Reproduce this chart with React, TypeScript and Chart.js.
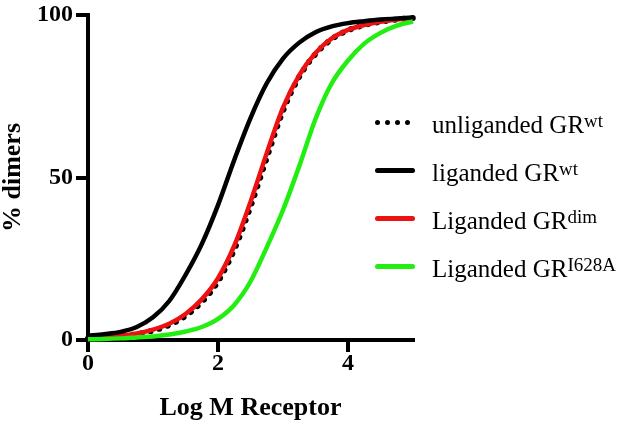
import React, { useEffect, useRef } from "react";
import { Chart, registerables } from "chart.js";

Chart.register(...registerables);

const X_VALUES = [0, 0.25, 0.5, 0.75, 1, 1.25, 1.5, 1.75, 2, 2.25, 2.5, 2.75, 3, 3.25, 3.5, 3.75, 4, 4.25, 4.5, 4.75, 5];
const UNLIGANDED_WT = [0.5, 0.8, 1.2, 1.8, 2.9, 4.6, 7.4, 11.7, 18, 27.8, 41, 56, 70.5, 81, 88, 92.6, 95.3, 96.9, 97.9, 98.6, 99.1];
const LIGANDED_WT = [1.3, 1.8, 2.5, 4.0, 7.0, 12.0, 20.0, 29.5, 41.5, 55.4, 68.3, 79, 86.6, 91.5, 94.7, 96.5, 97.5, 98.1, 98.6, 98.9, 99.2];
const LIGANDED_DIM = [0.6, 0.9, 1.3, 2.0, 3.2, 5.0, 8.0, 12.5, 19.0, 29.0, 42.5, 57.5, 71.5, 81.5, 88.3, 92.8, 95.4, 96.9, 97.9, 98.6, 99.1];
const LIGANDED_I628A = [0.2, 0.3, 0.5, 0.8, 1.1, 1.7, 2.6, 4.0, 6.5, 10.8, 18, 28.5, 40, 53.5, 68, 79, 86, 91.2, 94.5, 96.7, 98];
const X_TICKS = [0, 2, 4];
const Y_TICKS = [0, 50, 100];
const X_TITLE = "Log M Receptor";
const Y_TITLE = "% dimers";

const SERIF = '"Liberation Serif", "Times New Roman", serif';

const toPoints = (ys: number[]) => ys.map((y, i) => ({ x: X_VALUES[i], y }));

const legendRows = [
  { base: "unliganded GR", sup: "wt", kind: "dots", color: "#000000" },
  { base: "liganded GR", sup: "wt", kind: "line", color: "#000000" },
  { base: "Liganded GR", sup: "dim", kind: "line", color: "#ee1111" },
  { base: "Liganded GR", sup: "I628A", kind: "line", color: "#22ee11" },
];

export default function App() {
  const ref = useRef<HTMLCanvasElement | null>(null);

  useEffect(() => {
    if (!ref.current) return;
    const common = {
      borderWidth: 4.5,
      pointRadius: 0,
      cubicInterpolationMode: "monotone",
      clip: false,
    };
    const chart = new Chart(ref.current, {
      type: "line",
      data: {
        datasets: [
          { ...common, label: "Liganded GR I628A", data: toPoints(LIGANDED_I628A), borderColor: "#22ee11" },
          { ...common, label: "liganded GR wt", data: toPoints(LIGANDED_WT), borderColor: "#000000" },
          { ...common, label: "Liganded GR dim", data: toPoints(LIGANDED_DIM), borderColor: "#ee1111" },
          {
            ...common,
            label: "unliganded GR wt",
            data: toPoints(UNLIGANDED_WT),
            borderColor: "#000000",
            borderWidth: 6,
            borderDash: [0.01, 9],
            borderCapStyle: "round",
          },
        ],
      } as any,
      options: {
        responsive: false,
        animation: false,
        layout: { padding: { left: 0, right: 217, top: 12, bottom: 0 } },
        plugins: { legend: { display: false }, tooltip: { enabled: false } },
        scales: {
          x: {
            type: "linear",
            min: 0,
            max: 5,
            afterBuildTicks: (scale: any) => {
              scale.ticks = X_TICKS.map((v) => ({ value: v }));
            },
            afterFit: (scale: any) => {
              scale.height = 85;
            },
            grid: {
              drawOnChartArea: false,
              drawTicks: true,
              tickLength: 12,
              lineWidth: 4,
              color: "#000000",
              tickColor: "#000000",
            },
            border: { display: true, width: 4, color: "#000000" },
            ticks: {
              padding: 0,
              color: "#000000",
              font: { family: SERIF, size: 24, weight: "bold", lineHeight: 1 },
              maxRotation: 0,
              callback: (v: any) => String(v),
            },
            title: {
              display: true,
              text: X_TITLE,
              color: "#000000",
              font: { family: SERIF, size: 26, weight: "bold", lineHeight: 1 },
              padding: { top: 0, bottom: 4 },
            },
          },
          y: {
            type: "linear",
            min: 0,
            max: 100,
            afterBuildTicks: (scale: any) => {
              scale.ticks = Y_TICKS.map((v) => ({ value: v }));
            },
            afterFit: (scale: any) => {
              scale.width = 88;
            },
            grid: {
              drawOnChartArea: false,
              drawTicks: true,
              tickLength: 12,
              lineWidth: 4,
              color: "#000000",
              tickColor: "#000000",
            },
            border: { display: true, width: 4, color: "#000000" },
            ticks: {
              padding: 3,
              color: "#000000",
              font: { family: SERIF, size: 24, weight: "bold", lineHeight: 1 },
              callback: (v: any) => String(v),
            },
            title: {
              display: true,
              text: Y_TITLE,
              color: "#000000",
              font: { family: SERIF, size: 26, weight: "bold", lineHeight: 1 },
              padding: { top: 0, bottom: 0 },
            },
          },
        },
      } as any,
    });
    return () => chart.destroy();
  }, []);

  return (
    <div style={{ position: "absolute", left: 0, top: 0, width: 630, height: 425, background: "#ffffff" }}>
      <canvas ref={ref} width={630} height={425} style={{ position: "absolute", left: 0, top: 0 }} />
      {legendRows.map((row, i) => {
        const lineY = 122.5 + i * 48;
        const baseTop = 112.4 + i * 48;
        return (
          <React.Fragment key={i}>
            {row.kind === "dots" ? (
              <div style={{ position: "absolute", left: 375, top: lineY - 2.7, width: 40, height: 6 }}>
                {[0, 1, 2, 3].map((d) => (
                  <div
                    key={d}
                    style={{
                      position: "absolute",
                      left: d * 10,
                      top: 0,
                      width: 5.4,
                      height: 5.4,
                      borderRadius: "50%",
                      background: "#000",
                    }}
                  />
                ))}
              </div>
            ) : (
              <div
                style={{
                  position: "absolute",
                  left: 375,
                  top: lineY - 2.5,
                  width: 40,
                  height: 5,
                  borderRadius: 2.5,
                  background: row.color,
                }}
              />
            )}
            <div
              style={{
                position: "absolute",
                left: 432,
                top: baseTop,
                fontFamily: SERIF,
                fontSize: 25,
                lineHeight: "25px",
                color: "#000",
                whiteSpace: "nowrap",
              }}
            >
              {row.base}
              <span style={{ fontSize: 19, position: "relative", top: -6 }}>{row.sup}</span>
            </div>
          </React.Fragment>
        );
      })}
    </div>
  );
}
